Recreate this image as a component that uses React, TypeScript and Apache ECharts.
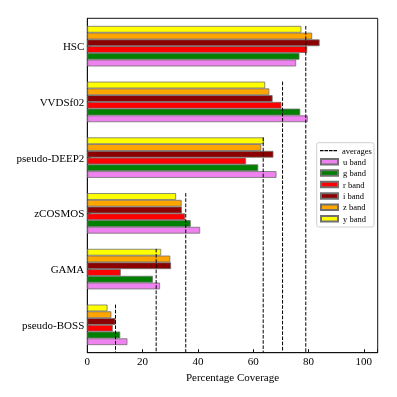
import React, { useEffect, useRef } from 'react';
import * as echarts from 'echarts';

const categories = ['HSC', 'VVDSf02', 'pseudo-DEEP2', 'zCOSMOS', 'GAMA', 'pseudo-BOSS'];
const bandNames = ['u band', 'g band', 'r band', 'i band', 'z band', 'y band'];
const uBand = [75.5, 79.7, 68.4, 40.8, 26.3, 14.5];
const gBand = [76.7, 77.0, 61.8, 37.4, 23.7, 11.9];
const rBand = [79.5, 70.2, 57.4, 35.4, 12.1, 9.2];
const iBand = [84.0, 67.0, 67.3, 34.2, 30.3, 10.2];
const zBand = [81.3, 65.8, 62.9, 34.1, 30.0, 8.7];
const yBand = [77.4, 64.3, 63.8, 32.1, 26.7, 7.3];
const averages = [79.0, 70.6, 63.6, 35.6, 24.9, 10.2];
const averagesName = 'averages';
const xAxisTitle = 'Percentage Coverage';

const bandValues = [uBand, gBand, rBand, iBand, zBand, yBand];
const bandColors = ['#EE82EE', '#008000', '#FF0000', '#8B0000', '#FFA500', '#FFFF00'];

const FONT = '"Liberation Serif", "DejaVu Serif", serif';
const BAR_W = 6.75;

export default function App() {
  const ref = useRef<HTMLDivElement>(null);
  useEffect(() => {
    if (!ref.current) return;
    const chart = echarts.init(ref.current, undefined, { renderer: 'svg' });
    // draw order top-to-bottom inside a group: y, z, i, r, g, u
    const order = [5, 4, 3, 2, 1, 0];
    const barSeries = order.map((k) => ({
      type: 'bar',
      name: bandNames[k],
      data: bandValues[k],
      barWidth: BAR_W,
      barGap: '0%',
      itemStyle: { color: bandColors[k], borderColor: '#707070', borderWidth: 0.8 },
      z: 2,
    }));
    const avgSeries = {
      type: 'custom',
      name: averagesName,
      data: averages.map((v, i) => [v, i]),
      encode: { x: 0, y: 1 },
      itemStyle: { color: '#000' },
      z: 5,
      renderItem: (params: any, api: any) => {
        const pt = api.coord([api.value(0), api.value(1)]);
        const cs = params.coordSys;
        const top = pt[1] - (BAR_W * 6) / 2;
        const bottom = cs.y + cs.height;
        return {
          type: 'line',
          shape: { x1: pt[0], y1: top, x2: pt[0], y2: bottom },
          style: { stroke: '#000', lineWidth: 1, lineDash: [3.6, 1.6] },
        };
      },
    };
    chart.setOption({
      animation: false,
      textStyle: { fontFamily: FONT },
      grid: { left: 87.3, top: 18.3, right: 19.3, bottom: 44.3, show: true, borderColor: '#111', borderWidth: 1, backgroundColor: 'transparent' },
      xAxis: {
        type: 'value',
        min: 0,
        max: 105,
        interval: 20,
        splitLine: { show: false },
        axisLine: { show: true, lineStyle: { color: '#111', width: 1 } },
        axisTick: { show: true, inside: true, length: 3.5, lineStyle: { color: '#111' } },
        axisLabel: {
          color: '#000',
          fontSize: 11,
          fontFamily: FONT,
          margin: 3,
          formatter: (v: number) => (v % 20 === 0 && v <= 100 ? String(v) : ''),
        },
        name: xAxisTitle,
        nameLocation: 'middle',
        nameGap: 15,
        nameTextStyle: { color: '#000', fontSize: 11, fontFamily: FONT },
      },
      yAxis: {
        type: 'category',
        data: categories,
        inverse: true,
        axisLine: { show: true, lineStyle: { color: '#111', width: 1 } },
        axisTick: { show: true, inside: true, length: 3.5, alignWithLabel: true, lineStyle: { color: '#111' } },
        axisLabel: { color: '#000', fontSize: 11, fontFamily: FONT, margin: 3 },
        splitLine: { show: false },
      },
      legend: [
        {
          orient: 'vertical',
          left: 320,
          top: 145.7,
          padding: 0,
          itemWidth: 17,
          itemHeight: 1.2,
          selectedMode: false,
          textStyle: { fontSize: 8.5, fontFamily: FONT, color: '#000', lineHeight: 10 },
          data: [
            {
              name: averagesName,
              icon: 'path://M0,0h3.6v1.2h-3.6z M4.5,0h3.6v1.2h-3.6z M9,0h3.6v1.2h-3.6z M13.4,0h3.6v1.2h-3.6z',
              itemStyle: { color: '#000', borderWidth: 0 },
            },
          ],
        },
        {
          orient: 'vertical',
          left: 320,
          top: 156.7,
          padding: 0,
          itemWidth: 17,
          itemHeight: 5.5,
          itemGap: 1.4,
          icon: 'rect',
          selectedMode: false,
          textStyle: { fontSize: 8.5, fontFamily: FONT, color: '#000', lineHeight: 10 },
          data: bandNames,
        },
      ],
      graphic: [
        {
          type: 'rect',
          shape: { x: 316.7, y: 142.7, width: 57.3, height: 84.3, r: 2 },
          style: { fill: '#fff', stroke: '#d0d0d0', lineWidth: 1 },
          z: 3,
          silent: true,
        },
      ],
      series: [...barSeries, avgSeries],
    });
    return () => chart.dispose();
  }, []);
  return <div ref={ref} style={{ position: 'fixed', left: 0, top: 0, width: 397, height: 397 }} />;
}
